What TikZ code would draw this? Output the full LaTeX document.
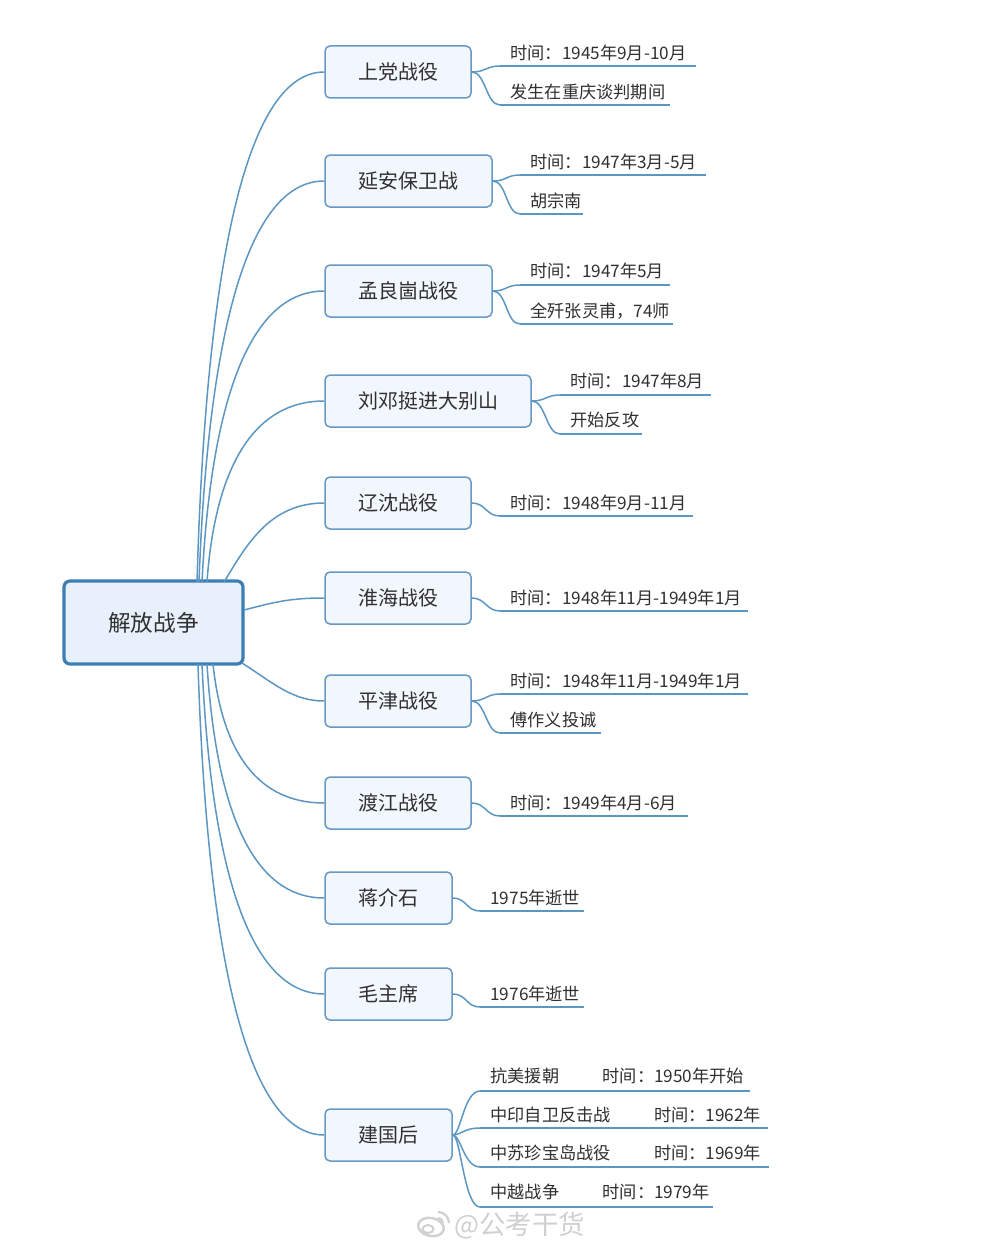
\documentclass[tikz,border=0pt]{standalone}
\usepackage{fontspec}
\setmainfont{Noto Sans CJK SC}
\definecolor{lnc}{RGB}{92,150,194}
\definecolor{bxc}{RGB}{104,152,196}
\definecolor{bxf}{RGB}{241,247,253}
\definecolor{rtc}{RGB}{60,126,180}
\definecolor{rtf}{RGB}{232,241,251}
\definecolor{txt}{RGB}{48,48,48}
\definecolor{wmc}{RGB}{208,208,208}
\tikzset{
  conn/.style={draw=lnc, line width=0.75pt},
  box/.style={draw=bxc, fill=bxf, rounded corners=2.5pt, line width=0.75pt,
    minimum height=26pt, inner sep=0pt, text=txt, font=\fontsize{10}{12}\selectfont},
  rootbox/.style={draw=rtc, fill=rtf, rounded corners=3pt, line width=1.6pt,
    minimum width=89.5pt, minimum height=41.5pt, inner sep=0pt, text=txt,
    font=\fontsize{11.3}{13}\selectfont},
  leaf/.style={anchor=west, inner sep=0pt, text=txt, font=\fontsize{8.6}{10}\selectfont},
}
\newcommand\mkleaf[7]{%
  \node[leaf] (#1) at (#2,#3) {#7};
  \coordinate (#1s) at (#4,#5);
  \coordinate (#1e) at (#6,#5);
  \draw[conn] (#1s) -- (#1e);}
\begin{document}
\begin{tikzpicture}[x=0.5pt, y=-0.5pt]
\fill[white] (0,0) rectangle (1000,1252);
\useasboundingbox (0,0) rectangle (1000,1252);

% root
\node[rootbox] (root) at (153.5,622.5) {解放战争};

% branch boxes
\node[box, minimum width=73pt]   (b1)  at (398,72)    {上党战役};
\node[box, minimum width=83.5pt] (b2)  at (408.5,181) {延安保卫战};
\node[box, minimum width=83.5pt] (b3)  at (408.5,291) {孟良崮战役};
\node[box, minimum width=103pt]  (b4)  at (428,401)   {刘邓挺进大别山};
\node[box, minimum width=73pt]   (b5)  at (398,503)   {辽沈战役};
\node[box, minimum width=73pt]   (b6)  at (398,598)   {淮海战役};
\node[box, minimum width=73pt]   (b7)  at (398,701)   {平津战役};
\node[box, minimum width=73pt]   (b8)  at (398,803)   {渡江战役};
\node[box, minimum width=63.5pt] (b9)  at (388.5,898) {蒋介石};
\node[box, minimum width=63.5pt] (b10) at (388.5,994) {毛主席};
\node[box, minimum width=63.5pt] (b11) at (388.5,1135){建国后};

% root connectors
\coordinate (s1) at (197,582);
\coordinate (s2) at (199,582);
\coordinate (s3) at (202,582);
\coordinate (s4) at (207,582);
\coordinate (s5) at (224,582);
\coordinate (s6) at (244,610);
\coordinate (s7) at (242,663);
\coordinate (s8) at (213,664);
\coordinate (s9) at (207,664);
\coordinate (s10) at (202,664);
\coordinate (s11) at (198,664);
\draw[conn] (s1) .. controls (205,301) and (239,72) .. (b1.west);
\draw[conn] (s2) .. controls (207,361) and (241,181) .. (b2.west);
\draw[conn] (s3) .. controls (210,421) and (243,291) .. (b3.west);
\draw[conn] (s4) .. controls (214,482) and (246,401) .. (b4.west);
\draw[conn] (s5) .. controls (245,548) and (268,503) .. (b5.west);
\draw[conn] (s6) .. controls (275,602) and (290,598) .. (b6.west);
\draw[conn] (s7) .. controls (272,682) and (292,701) .. (b7.west);
\draw[conn] (s8) .. controls (221,740) and (250,803) .. (b8.west);
\draw[conn] (s9) .. controls (215,793) and (246,898) .. (b9.west);
\draw[conn] (s10) .. controls (210,846) and (243,994) .. (b10.west);
\draw[conn] (s11) .. controls (206,923) and (240,1135) .. (b11.west);

% leaves
\mkleaf{La1}{510}{53}{500}{66}{696}{时间：1945年9月-10月}
\mkleaf{La2}{510}{92}{500}{105}{670}{发生在重庆谈判期间}
\mkleaf{Lb1}{530}{162}{520}{175}{706}{时间：1947年3月-5月}
\mkleaf{Lb2}{530}{201}{520}{214}{583}{胡宗南}
\mkleaf{Lc1}{530}{271}{520}{285}{670}{时间：1947年5月}
\mkleaf{Lc2}{530}{311}{520}{324}{673}{全歼张灵甫，74师}
\mkleaf{Ld1}{570}{381}{560}{395}{711}{时间：1947年8月}
\mkleaf{Ld2}{570}{420}{560}{434}{642}{开始反攻}
\mkleaf{Le1}{510}{503}{500}{516}{693}{时间：1948年9月-11月}
\mkleaf{Lf1}{510}{598}{500}{611}{748}{时间：1948年11月-1949年1月}
\mkleaf{Lg1}{510}{681}{500}{694}{748}{时间：1948年11月-1949年1月}
\mkleaf{Lg2}{510}{720}{500}{733}{601}{傅作义投诚}
\mkleaf{Lh1}{510}{803}{500}{816}{688}{时间：1949年4月-6月}
\mkleaf{Li1}{490}{898}{480}{911}{584}{1975年逝世}
\mkleaf{Lj1}{490}{994}{480}{1007}{584}{1976年逝世}
\mkleaf{Lk1}{490}{1076}{480}{1091}{750}{抗美援朝\hspace{21.7pt}时间：1950年开始}
\mkleaf{Lk2}{490}{1115}{480}{1128}{768}{中印自卫反击战\hspace{21.7pt}时间：1962年}
\mkleaf{Lk3}{490}{1153}{480}{1167}{769}{中苏珍宝岛战役\hspace{21.7pt}时间：1969年}
\mkleaf{Lk4}{490}{1192}{480}{1207}{713}{中越战争\hspace{21.7pt}时间：1979年}

% box to leaf connectors
\draw[conn] (b1.east) .. controls +(14,0) and +(-14,0) .. (La1s);
\draw[conn] (b1.east) .. controls +(14,0) and +(-14,0) .. (La2s);
\draw[conn] (b2.east) .. controls +(14,0) and +(-14,0) .. (Lb1s);
\draw[conn] (b2.east) .. controls +(14,0) and +(-14,0) .. (Lb2s);
\draw[conn] (b3.east) .. controls +(14,0) and +(-14,0) .. (Lc1s);
\draw[conn] (b3.east) .. controls +(14,0) and +(-14,0) .. (Lc2s);
\draw[conn] (b4.east) .. controls +(14,0) and +(-14,0) .. (Ld1s);
\draw[conn] (b4.east) .. controls +(14,0) and +(-14,0) .. (Ld2s);
\draw[conn] (b5.east) .. controls +(14,0) and +(-14,0) .. (Le1s);
\draw[conn] (b6.east) .. controls +(14,0) and +(-14,0) .. (Lf1s);
\draw[conn] (b7.east) .. controls +(14,0) and +(-14,0) .. (Lg1s);
\draw[conn] (b7.east) .. controls +(14,0) and +(-14,0) .. (Lg2s);
\draw[conn] (b8.east) .. controls +(14,0) and +(-14,0) .. (Lh1s);
\draw[conn] (b9.east) .. controls +(14,0) and +(-14,0) .. (Li1s);
\draw[conn] (b10.east) .. controls +(14,0) and +(-14,0) .. (Lj1s);
\draw[conn] (b11.east) .. controls +(8,0) and +(-16,0) .. (Lk1s);
\draw[conn] (b11.east) .. controls +(8,0) and +(-16,0) .. (Lk2s);
\draw[conn] (b11.east) .. controls +(8,0) and +(-16,0) .. (Lk3s);
\draw[conn] (b11.east) .. controls +(8,0) and +(-16,0) .. (Lk4s);

% watermark
\draw[wmc, line width=1.2pt, rotate around={-12:(431,1227)}] (431,1227) ellipse (13 and 9);
\draw[wmc, line width=1pt] (428,1229) ellipse (5.5 and 4);
\draw[wmc, line width=1.1pt] (438,1212) arc (-90:0:11);
\draw[wmc, line width=1.1pt] (438,1218) arc (-90:0:5);
\node[anchor=west, inner sep=0pt, text=wmc, font=\fontsize{13.2}{15}\selectfont] (wm) at (454,1226) {@公考干货};
\end{tikzpicture}
\end{document}
